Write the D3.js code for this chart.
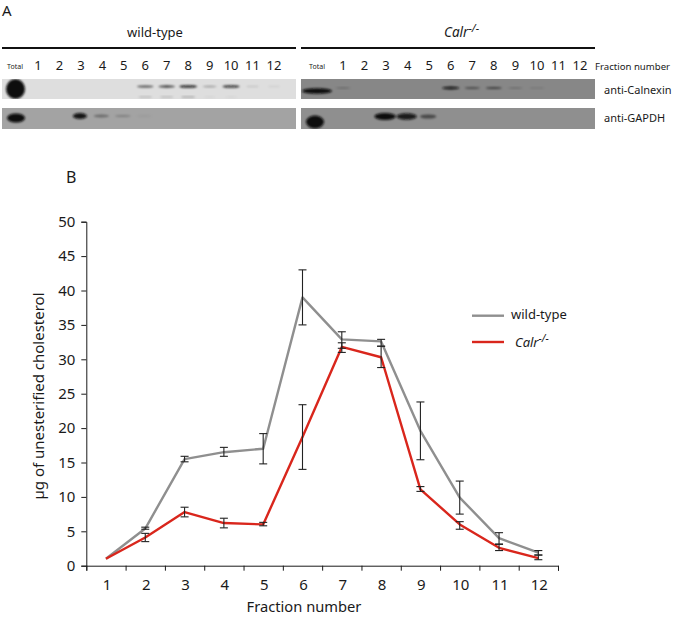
<!DOCTYPE html>
<html><head><meta charset="utf-8">
<script src="https://cdnjs.cloudflare.com/ajax/libs/d3/7.8.5/d3.min.js"></script>
<style>
html,body{margin:0;padding:0;background:#fff}
svg{display:block}
text{font-family:"Noto Sans","Open Sans",sans-serif;fill:#1a1a1a}
</style></head><body>
<script>
// ---------- data ----------
const fractions = [1,2,3,4,5,6,7,8,9,10,11,12];
const yTicks = [0,5,10,15,20,25,30,35,40,45,50];
const wildType   = [1,5.4,15.5,16.5,17,39,32.9,32.6,19.6,9.9,4,1.9];
const wildTypeLo = [null,5.3,15.1,15.9,14.8,35,31.6,31.9,15.4,7.5,3.1,1.55];
const wildTypeHi = [null,5.6,15.9,17.2,19.2,43,34,32.9,23.8,12.3,4.8,2.2];
const calr   = [1,4.1,7.8,6.2,6,18.7,31.8,30.3,11.1,6,2.6,1.1];
const calrLo = [null,3.5,7.1,5.5,5.8,14,31,28.8,10.8,5.3,2.2,0.87];
const calrHi = [null,4.7,8.5,6.9,6.3,23.4,32.4,31.9,11.5,6.4,3.15,1.55];
// band intensities per lane: Total, then fractions 1-12 (0..1)
const wtCalnexin = [1,0,0,0,0,0,.62,.68,.85,.3,.75,.12,.05];
const wtCalnexinLower = [0,0,0,0,0,0,.22,.2,.32,.05,.05,0,0];
const wtGapdh    = [.95,0,0,.9,.3,.18,.03,0,0,0,0,0,0];
const koCalnexin = [1,.2,0,0,0,0,.85,.4,.5,.18,.14,0,0];
const koGapdh    = [1,0,0,.95,.85,.45,0,0,0,0,0,0,0];

// ---------- layout ----------
const svg = d3.select("body").append("svg").attr("width",675).attr("height",617);
const x = d3.scaleBand().domain(fractions).range([86.3,558]);
const y = d3.scaleLinear().domain([0,50]).range([565.7,221.7]);
const lanesWT = d3.scaleLinear().domain([1,12]).range([38,274]);
const lanesKO = d3.scaleLinear().domain([1,12]).range([343,580]);
const ink = "#1a1a1a";

// panel letters
svg.append("text").attr("x",2).attr("y",16).attr("font-size",15).text("A");
svg.append("text").attr("x",66).attr("y",183).attr("font-size",16).text("B");

function calrLabel(sel,size){
  sel.attr("font-size",size).attr("font-style","italic");
  sel.append("tspan").text("Calr");
  sel.append("tspan").attr("dy",-5).attr("font-size",size*.8).text("-/-");
}

// ---------- panel A ----------
svg.append("text").attr("x",155).attr("y",37).attr("text-anchor","middle").attr("font-size",13).text("wild-type");
calrLabel(svg.append("text").attr("x",444).attr("y",37).attr("text-anchor","start"),13.5);
svg.append("line").attr("x1",2).attr("x2",296).attr("y1",48).attr("y2",48).attr("stroke","#111").attr("stroke-width",2);
svg.append("line").attr("x1",301).attr("x2",595).attr("y1",48).attr("y2",48).attr("stroke","#111").attr("stroke-width",2);

[[lanesWT,15],[lanesKO,317]].forEach(([sc,tx])=>{
  svg.append("text").attr("x",tx).attr("y",69).attr("text-anchor","middle").attr("font-size",7).text("Total");
  svg.selectAll(null).data(fractions).enter().append("text")
    .attr("x",d=>sc(d)).attr("y",70).attr("text-anchor","middle").attr("font-size",13).text(d=>d);
});
svg.append("text").attr("x",595).attr("y",70).attr("font-size",9.6).text("Fraction number");
svg.append("text").attr("x",604).attr("y",94).attr("font-size",11).text("anti-Calnexin");
svg.append("text").attr("x",604).attr("y",122).attr("font-size",11).text("anti-GAPDH");

const defs = svg.append("defs");
defs.append("filter").attr("id","blur").attr("x","-50%").attr("y","-100%").attr("width","200%").attr("height","300%")
  .append("feGaussianBlur").attr("stdDeviation",0.9);

const rxScale = d3.scaleLinear().domain([0,1]);
const ryScale = d3.scaleLinear().domain([0,1]);
function blot(cfg){
  const id = "clip"+cfg.id;
  defs.append("clipPath").attr("id",id).append("rect")
    .attr("x",cfg.x).attr("y",cfg.y).attr("width",294).attr("height",cfg.h);
  const g = svg.append("g").attr("clip-path",`url(#${id})`);
  g.append("rect").attr("x",cfg.x).attr("y",cfg.y).attr("width",294).attr("height",cfg.h).attr("fill",cfg.bg);
  cfg.bands.forEach(b=>{
    const rx = rxScale.copy().range(b.rx), ry = ryScale.copy().range(b.ry);
    g.selectAll(null).data(b.values.map((v,i)=>({v,i})).filter(d=>d.v>0)).enter().append("ellipse")
      .attr("cx",d=>d.i===0?cfg.totalX:cfg.lanes(d.i)-(cfg.shift||0))
      .attr("cy",d=>d.i===0?cfg.totalY:cfg.y+b.dy)
      .attr("rx",d=>d.i===0?cfg.totalRx:rx(d.v))
      .attr("ry",d=>d.i===0?cfg.totalRy:ry(d.v))
      .attr("fill","#0c0c0c")
      .attr("fill-opacity",d=>d.i===0?1:Math.min(1,d.v+.05))
      .attr("filter","url(#blur)");
  });
}
blot({id:"a",x:2,y:79,h:20,bg:"#dedede",lanes:lanesWT,totalX:15.5,totalY:89,totalRx:9.5,totalRy:10,
  bands:[{values:wtCalnexin,dy:7.5,rx:[6,9.5],ry:[.5,1.5]},{values:wtCalnexinLower,dy:18,rx:[6,9.5],ry:[.4,1.1]}]});
blot({id:"b",x:2,y:108,h:21,bg:"#a3a3a3",lanes:lanesWT,shift:1,totalX:16,totalY:118,totalRx:9,totalRy:4.5,
  bands:[{values:wtGapdh,dy:8,rx:[8,7],ry:[.6,3.2]}]});
blot({id:"c",x:301,y:79,h:20,bg:"#878787",lanes:lanesKO,totalX:317,totalY:91,totalRx:15,totalRy:2.8,
  bands:[{values:koCalnexin,dy:9,rx:[7,9],ry:[.4,1.7]}]});
blot({id:"d",x:301,y:108,h:21,bg:"#8f8f8f",lanes:lanesKO,shift:1,totalX:315,totalY:122,totalRx:9,totalRy:6.5,
  bands:[{values:koGapdh,dy:8.5,rx:[6,11],ry:[.8,3.6]}]});

// ---------- panel B ----------
const yAxis = d3.axisLeft(y).tickValues(yTicks).tickSize(5).tickPadding(6);
const xAxis = d3.axisBottom(d3.scaleLinear().domain([0,12]).range([86.3,558])).ticks(12).tickFormat("").tickSize(5);
const gy = svg.append("g").attr("transform","translate(86.3,0)").call(yAxis);
const gx = svg.append("g").attr("transform","translate(0,565.7)").call(xAxis);
[gy,gx].forEach(g=>{
  g.selectAll("path").attr("stroke",ink).attr("stroke-width",1);
  g.selectAll("line").attr("stroke",ink).attr("stroke-width",1);
});
gy.selectAll("text").attr("font-size",15).attr("fill",ink);

svg.selectAll(null).data(fractions).enter().append("text")
  .attr("x",d=>x(d)+x.bandwidth()/2+1).attr("y",590).attr("text-anchor","middle").attr("font-size",15).text(d=>d);
svg.append("text").attr("x",304).attr("y",612).attr("text-anchor","middle").attr("font-size",14.7).text("Fraction number");
svg.append("text").attr("transform","translate(44,396) rotate(-90)").attr("text-anchor","middle").attr("font-size",15).text("µg of unesterified cholesterol");

const cx = d=>x(d)+x.bandwidth()/2;
const line = d3.line().x((d,i)=>cx(fractions[i])).y(d=>y(d));
const gray="#8f8f8f", red="#d9261c";
svg.append("path").attr("d",line(wildType)).attr("fill","none").attr("stroke",gray).attr("stroke-width",2.4).attr("stroke-linejoin","round");
svg.append("path").attr("d",line(calr)).attr("fill","none").attr("stroke",red).attr("stroke-width",2.4).attr("stroke-linejoin","round");

function errors(lo,hi){
  const g = svg.append("g").attr("stroke","#222").attr("stroke-width",1.1);
  fractions.forEach((f,i)=>{
    if(lo[i]==null) return;
    const X=cx(f);
    g.append("line").attr("x1",X).attr("x2",X).attr("y1",y(lo[i])).attr("y2",y(hi[i]));
    [lo[i],hi[i]].forEach(v=>g.append("line").attr("x1",X-4).attr("x2",X+4).attr("y1",y(v)).attr("y2",y(v)));
  });
}
errors(wildTypeLo,wildTypeHi);
errors(calrLo,calrHi);

// legend
svg.append("line").attr("x1",472).attr("x2",504).attr("y1",315.7).attr("y2",315.7).attr("stroke",gray).attr("stroke-width",2.4);
svg.append("line").attr("x1",472).attr("x2",504).attr("y1",342).attr("y2",342).attr("stroke",red).attr("stroke-width",2.4);
svg.append("text").attr("x",511).attr("y",319).attr("font-size",13).text("wild-type");
calrLabel(svg.append("text").attr("x",515).attr("y",347),13);
</script>
</body></html>
